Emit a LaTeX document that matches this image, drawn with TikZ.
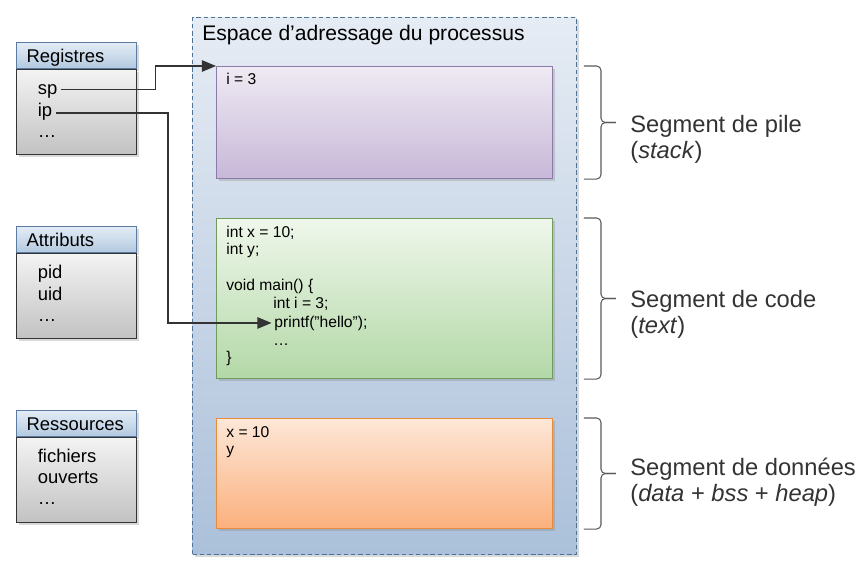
\documentclass[tikz,border=0pt]{standalone}
\usepackage{fontspec}
\setmainfont{Liberation Sans}
\usetikzlibrary{arrows.meta,shadows,calc,positioning}

\definecolor{spaceA}{HTML}{E6ECF4}
\definecolor{spaceB}{HTML}{ABC0DA}
\definecolor{spaceD}{HTML}{4E7396}
\definecolor{pileA}{HTML}{EFEAF3}
\definecolor{pileB}{HTML}{C7B8D8}
\definecolor{pileD}{HTML}{8C7AA8}
\definecolor{codeA}{HTML}{EFF7EB}
\definecolor{codeB}{HTML}{B3D8A7}
\definecolor{codeD}{HTML}{6F9B5E}
\definecolor{dataA}{HTML}{FDE7D8}
\definecolor{dataB}{HTML}{FBB07C}
\definecolor{dataD}{HTML}{E88B3B}
\definecolor{headA}{HTML}{E3ECF5}
\definecolor{headB}{HTML}{B3C9E0}
\definecolor{headD}{HTML}{5A7C9E}
\definecolor{bodyA}{HTML}{F3F3F3}
\definecolor{bodyB}{HTML}{C2C2C2}
\definecolor{ink}{HTML}{333333}

\tikzset{
    dshadow/.style={drop shadow={opacity=0.3,shadow xshift=1.2pt,shadow yshift=-1.2pt}},
    space/.style={anchor=north west,minimum width=7.68cm,minimum height=10.74cm,
        top color=spaceA,bottom color=spaceB,draw=spaceD,line width=0.7pt,
        dash pattern=on 2.5pt off 1.6pt,dshadow},
    seg/.style={anchor=north west,minimum width=6.72cm,line width=0.6pt,dshadow},
    segtxt/.style={anchor=base west,inner sep=0pt,font=\fontsize{8.9}{10}\selectfont},
    head/.style={anchor=north west,minimum width=2.4cm,minimum height=0.52cm,
        top color=headA,bottom color=headB,draw=headD,line width=0.6pt,
        text width=2.0cm,inner xsep=0.2cm,align=left,text height=7.6pt,text depth=0pt,
        font=\fontsize{10.5}{12}\selectfont,dshadow},
    body/.style={anchor=north,minimum width=2.4cm,minimum height=1.7cm,
        top color=bodyA,bottom color=bodyB,draw=black!80,line width=0.6pt,dshadow},
    item/.style={anchor=base west,inner xsep=2pt,inner ysep=0pt,font=\fontsize{10.5}{12}\selectfont},
    lbl/.style={anchor=base west,inner sep=0pt,text=ink,font=\fontsize{13.5}{15}\selectfont},
    ptr/.style={-{Triangle[length=8pt,width=6.5pt]},draw=ink,line width=0.7pt},
    brk/.style={draw=black!65,line width=0.6pt,rounded corners=2.5pt}
}

\begin{document}
\begin{tikzpicture}[x=0.02cm,y=-0.02cm]
\useasboundingbox (0,0) rectangle (861,565);

% espace d'adressage
\node[space] (as) at (192,17) {};
\node[anchor=base west,inner sep=0pt,font=\fontsize{12}{14}\selectfont] (astitle) at (202,40) {Espace d’adressage du processus};

% segments
\node[seg,minimum height=2.24cm,top color=pileA,bottom color=pileB,draw=pileD] (stack) at (216,66) {};
\node[seg,minimum height=3.2cm,top color=codeA,bottom color=codeB,draw=codeD] (code) at (216,218) {};
\node[seg,minimum height=2.2cm,top color=dataA,bottom color=dataB,draw=dataD] (data) at (216,418) {};

\node[segtxt] (i3) at (226,84) {i = 3};

\node[segtxt] (intx) at (226,237) {int x = 10;};
\node[segtxt] (inty) at (226,254) {int y;};
\node[segtxt] (main) at (226,290) {void main() \{};
\node[segtxt] (inti) at (273,308) {int i = 3;};
\node[segtxt,inner xsep=1.5pt] (printf) at (271.5,327) {printf("hello");};
\node[segtxt] (cdots) at (273,345) {\ldots};
\node[segtxt] (close) at (226,362) {\}};

\node[segtxt] (x10) at (226,437) {x = 10};
\node[segtxt] (y) at (226,454) {y};

% registres, attributs, ressources
\node[head] (reghd) at (16,42) {Registres};
\node[body] (regbd) at (reghd.south) {};
\node[item] (sp) at (34,94) {sp};
\node[item] (ip) at (34,116) {ip};
\node[item] (regdots) at (34,137) {\ldots};

\node[head] (atthd) at (16,226) {Attributs};
\node[body] (attbd) at (atthd.south) {};
\node[item] (pid) at (34,278) {pid};
\node[item] (uid) at (34,300) {uid};
\node[item] (attdots) at (34,321) {\ldots};

\node[head] (reshd) at (16,410) {Ressources};
\node[body] (resbd) at (reshd.south) {};
\node[item] (fichiers) at (34,462) {fichiers};
\node[item] (ouverts) at (34,483) {ouverts};
\node[item] (resdots) at (34,504) {\ldots};

% pointeurs
\draw[ptr] ([yshift=1pt]sp.east) -- ++(94,0) |- (stack.north west);
\draw[ptr] ([yshift=-1pt]ip.east) -- ++(112,0) |- (printf.west);

% accolades
\foreach \s in {stack,code,data}{
    \draw[brk] ($(\s.north east)+(31,0)$) -| ($(\s.east)+(48,0)$) -- ++(15,0);
    \draw[brk] ($(\s.east)+(63,0)$) -- ++(-15,0) |- ($(\s.south east)+(31,0)$);
}

\node[lbl] (pile) at (630,132) {Segment de pile};
\node[lbl] (stacklbl) at (630,158) {(\textit{stack})};
\node[lbl] (codelbl) at (630,307) {Segment de code};
\node[lbl] (textlbl) at (630,333) {(\textit{text})};
\node[lbl] (datalbl) at (630,475) {Segment de données};
\node[lbl] (heaplbl) at (630,501) {(\textit{data} + \textit{bss} + \textit{heap})};
\end{tikzpicture}
\end{document}
